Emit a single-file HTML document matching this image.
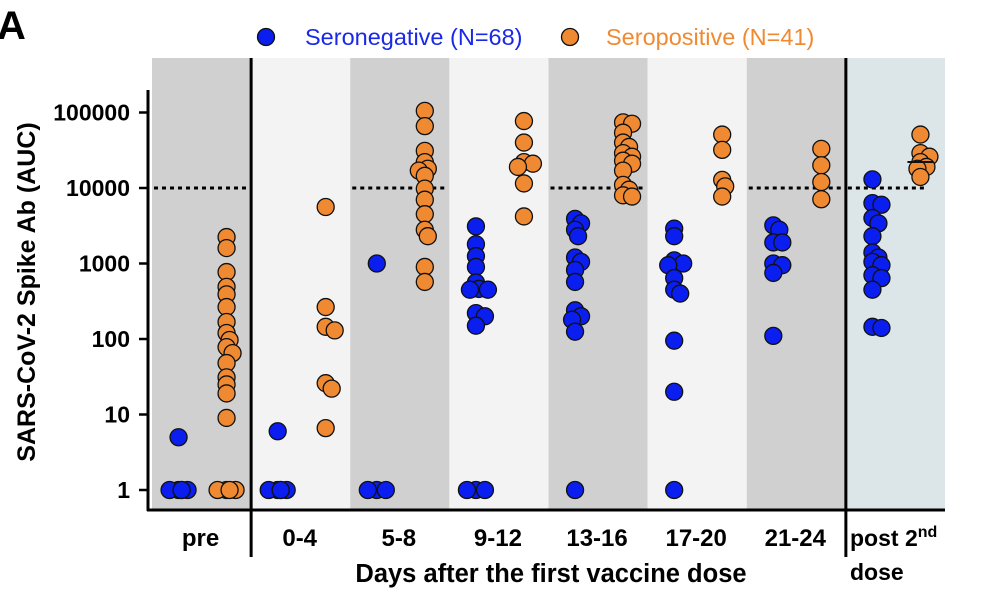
<!DOCTYPE html>
<html><head><meta charset="utf-8"><style>
html,body{margin:0;padding:0;background:#fff;}
svg{display:block;font-family:"Liberation Sans",Arial,sans-serif;}
</style></head><body>
<svg id="chart" width="990" height="596" viewBox="0 0 990 596">
<g id="bands"></g>
<g id="dots"></g>
<g id="axes"></g>
<g id="labels"></g>
</svg>
<script>
const NS='http://www.w3.org/2000/svg';
const categories=['pre','0-4','5-8','9-12','13-16','17-20','21-24','post'];
const negValues=[
 [1,1,1,1,1,5],
 [1,1,1,1,1,6],
 [1,1,1,1000],
 [3100,1800,1250,900,560,460,450,450,220,200,150,1,1,1],
 [3900,3400,2800,2300,1200,1050,820,570,240,200,180,125,1],
 [2900,2300,1100,1000,950,640,450,400,95,20,1],
 [3200,2800,1900,1900,1000,950,750,110],
 [13000,6300,6000,4000,3400,2300,1400,1200,1050,950,700,640,450,145,140]
];
const posValues=[
 [2240,1600,770,490,390,265,168,120,97,78,65,48,31,25,19,9,1,1,1,1],
 [5600,265,145,130,26,22,6.6],
 [105000,66000,31000,22000,18000,17000,14500,9800,7000,4500,2800,2300,900,570],
 [77000,40000,22000,21000,19000,11500,4200],
 [74000,71000,54000,40000,35000,29000,26000,23000,21000,17000,11000,9500,8000,7700],
 [51000,32000,12800,10500,7700],
 [33000,20000,12000,7100],
 [51000,29000,26000,22000,19000,18000,14000]
];
const yTicks=[1,10,100,1000,10000,100000];
const yTickLabels=['1','10','100','1000','10000','100000'];
const threshold=10000;

function yScale(v){return 490-75.5*Math.log10(v);}
const left=152,right=945,bandW=(right-left)/8;
function xCenter(i){return left+bandW*(i+0.5);}
function mk(tag,attrs,parent){const e=document.createElementNS(NS,tag);for(const k in attrs)e.setAttribute(k,attrs[k]);parent.appendChild(e);return e;}
const bands=document.getElementById('bands'),dots=document.getElementById('dots'),axes=document.getElementById('axes'),labels=document.getElementById('labels');
const bandFill=['#d0d0d0','#f3f3f3','#d0d0d0','#f3f3f3','#d0d0d0','#f3f3f3','#d0d0d0','#dce6e9'];
categories.forEach((c,i)=>{
 const r=mk('rect',{x:left+bandW*i,y:58,width:bandW,height:452,fill:bandFill[i]},bands);
 
 
 if(i%2===0||i===7){
  const x1=left+bandW*i+2, x2=i===7?left+bandW*i+bandW*0.8:left+bandW*(i+1)-2;
  const l=mk('line',{x1:x1,x2:x2,y1:yScale(threshold),y2:yScale(threshold),stroke:'#000','stroke-width':3,'stroke-dasharray':'4,4'},bands);
  
  
 }
});
function swarm(vals,cx,color,name){
 const placed=[];
 const sorted=vals.map(v=>yScale(v)).sort((a,b)=>a-b);
 sorted.forEach(y=>{
  let off=0,k=0;
  while(true){
   const cand=k===0?0:(k%2?1:-1)*Math.ceil(k/2)*3;
   if(placed.every(p=>Math.hypot(p.x-(cx+cand),p.y-y)>=7)){off=cand;break;}
   k++; if(k>8){off=(k%2?1:-1)*3;break;}
  }
  placed.push({x:cx+off,y:y});
 });
 placed.forEach(p=>{
  const c=mk('circle',{cx:p.x,cy:p.y,r:8.5,fill:color,stroke:'#111','stroke-width':1.3},dots);
  
  
 });
}
categories.forEach((c,i)=>{
 swarm(negValues[i],xCenter(i)-23,'#0a1ef0','seronegative-point');
 swarm(posValues[i],xCenter(i)+25,'#f08a32','seropositive-point');
});
const mt=mk('line',{x1:xCenter(7)+12,x2:xCenter(7)+38,y1:162,y2:162,stroke:'#111','stroke-width':2},dots);


[left+bandW,left+bandW*7].forEach(x=>{
 const l=mk('line',{x1:x,x2:x,y1:58,y2:557,stroke:'#000','stroke-width':3},axes);
 
 
});
let a=mk('line',{x1:148,x2:148,y1:90,y2:511,stroke:'#000','stroke-width':3},axes);


a=mk('line',{x1:147,x2:945,y1:510,y2:510,stroke:'#000','stroke-width':3},axes);


yTicks.forEach((t,i)=>{
 const y=yScale(t);
 const tk=mk('line',{x1:139,x2:148,y1:y,y2:y,stroke:'#000','stroke-width':2.5},axes);
 
 
 const tx=mk('text',{x:130,y:y+8,'text-anchor':'end','font-size':23,'font-weight':'bold'},labels);
 tx.textContent=yTickLabels[i];
 
 
});
categories.forEach((c,i)=>{
 if(i===7)return;
 const tx=mk('text',{x:xCenter(i)-1,y:546,'text-anchor':'middle','font-size':24,'font-weight':'bold'},labels);
 tx.textContent=c;
 
 
});
</script>
<svg style="position:absolute;left:0;top:0" width="990" height="596">
<text x="-3" y="39" font-size="40" font-weight="bold" font-family="Liberation Sans,sans-serif">A</text>
<circle cx="266" cy="37" r="8.5" fill="#0a1ef0" stroke="#111" stroke-width="1.3"/>
<text x="305" y="45" font-size="23.5" fill="#1a28e8" font-family="Liberation Sans,sans-serif">Seronegative (N=68)</text>
<circle cx="570" cy="37" r="8.5" fill="#f08a32" stroke="#111" stroke-width="1.3"/>
<text x="606" y="45" font-size="23.5" fill="#f08a32" font-family="Liberation Sans,sans-serif">Seropositive (N=41)</text>
<text transform="translate(35,292) rotate(-90)" text-anchor="middle" font-size="25" font-weight="bold" font-family="Liberation Sans,sans-serif">SARS-CoV-2 Spike Ab (AUC)</text>
<text x="551" y="582" text-anchor="middle" font-size="25.5" font-weight="bold" font-family="Liberation Sans,sans-serif">Days after the first vaccine dose</text>
<text x="850" y="546" font-size="23" font-weight="bold" font-family="Liberation Sans,sans-serif">post 2<tspan dy="-9" font-size="16">nd</tspan></text>
<text x="850" y="580" font-size="23" font-weight="bold" font-family="Liberation Sans,sans-serif">dose</text>
</svg>
</body></html>
